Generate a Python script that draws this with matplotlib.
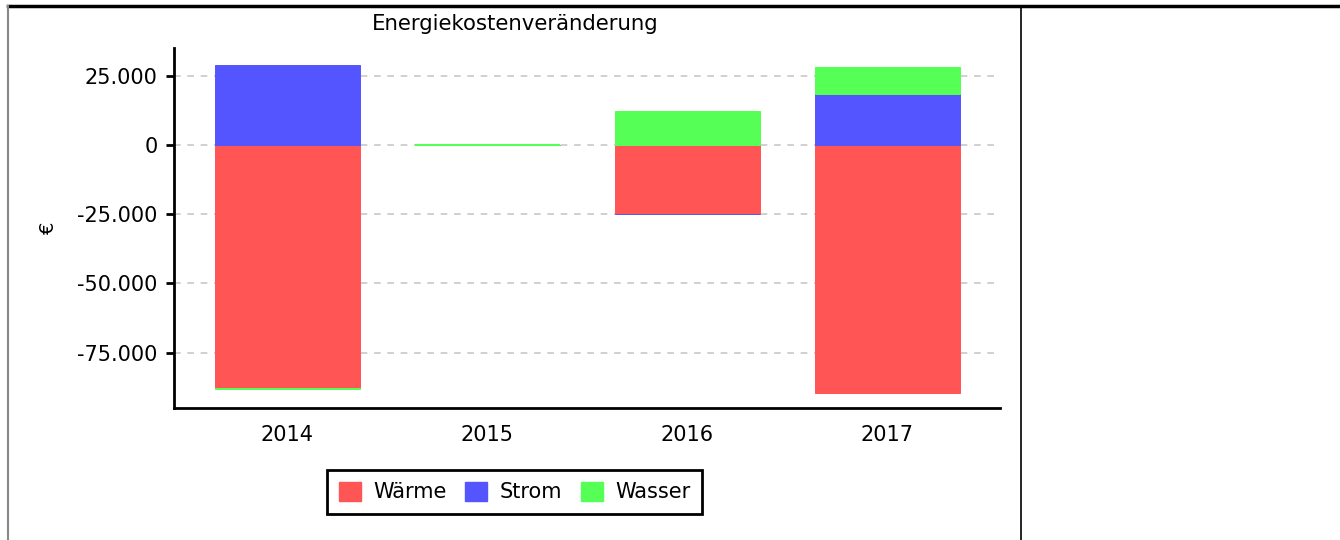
import matplotlib
matplotlib.use("Agg")
import matplotlib.pyplot as plt
import numpy as np
from matplotlib.lines import Line2D
from matplotlib.patches import Patch
import matplotlib.ticker as ticker

# data (EUR)
years = ["2014", "2015", "2016", "2017"]
waerme = [-87600, 0, -24900, -89400]
strom = [29000, 0, -200, 18250]
wasser = [-400, 0, 12100, 9750]

series_names = ["Wärme", "Strom", "Wasser"]
series_colors = ["#FF5555", "#5555FF", "#55FF55"]

title = "Energiekostenveränderung"
y_ticks = [-75000, -50000, -25000, 0, 25000]


def fmt_thousands(v, pos):
    s = "{:,.0f}".format(v).replace(",", ".")
    return s


fig = plt.figure(figsize=(13.4, 5.4), dpi=100, facecolor="white")
ax = fig.add_axes([0.1299, 0.2444, 0.6164, 0.6667])

x = np.arange(len(years))
bar_w = 0.725

# stack positives upward and negatives downward separately
pos_bottom = np.zeros(len(years))
neg_bottom = np.zeros(len(years))
for vals, name, col in zip([waerme, strom, wasser], series_names, series_colors):
    vals = np.array(vals, dtype=float)
    bottoms = np.where(vals >= 0, pos_bottom, neg_bottom)
    ax.bar(x, vals, bottom=bottoms, width=bar_w, color=col,
           edgecolor=col, linewidth=0.7, zorder=3)
    pos_bottom = pos_bottom + np.where(vals > 0, vals, 0)
    neg_bottom = neg_bottom + np.where(vals < 0, vals, 0)

# zero-valued year still shows as a flat line in the last series colour
zero_years = [i for i in x if waerme[i] == 0 and strom[i] == 0 and wasser[i] == 0]
for i in zero_years:
    ax.hlines(0, i - bar_w / 2, i + bar_w / 2, color=series_colors[-1], linewidth=1.5, zorder=4)

ax.set_xlim(-0.565, 3.565)
ax.set_ylim(-95000, 35000)
ax.set_xticks(x)
ax.set_xticklabels(years)
ax.set_yticks(y_ticks)
ax.yaxis.set_major_formatter(ticker.FuncFormatter(fmt_thousands))

ax.grid(axis="y", color="#c8c8c8", linestyle=(0, (4, 4)), linewidth=1.2, zorder=0)
ax.set_axisbelow(True)

for side in ["top", "right"]:
    ax.spines[side].set_visible(False)
for side in ["left", "bottom"]:
    ax.spines[side].set_linewidth(2)

ax.tick_params(axis="y", direction="out", length=6, width=2, labelsize=15, pad=6)
ax.tick_params(axis="x", length=0, labelsize=15, pad=12)

fig.text(0.0358, 0.578, "€", rotation=90, ha="center", va="center", fontsize=14)
fig.text(0.3843, 0.955, title, ha="center", va="center", fontsize=15.3)

handles = [Patch(facecolor=c, edgecolor=c, label=n) for n, c in zip(series_names, series_colors)]
leg = fig.legend(handles=handles, loc="center", bbox_to_anchor=(0.384, 0.089), ncol=3,
                 frameon=True, fancybox=False, fontsize=15, handlelength=1.05,
                 handleheight=1.05, handletextpad=0.6, columnspacing=0.9,
                 borderpad=0.55, borderaxespad=0, edgecolor="black", framealpha=1)
leg.get_frame().set_linewidth(2)

# surrounding panel lines
fig.add_artist(Line2D([8 / 1340, 1.0], [1 - 6 / 540, 1 - 6 / 540], color="black", linewidth=2.5,
                      transform=fig.transFigure))
fig.add_artist(Line2D([8 / 1340, 8 / 1340], [1 - 6 / 540, 0], color="#888888", linewidth=1.5,
                      transform=fig.transFigure))
fig.add_artist(Line2D([1021 / 1340, 1021 / 1340], [1 - 6 / 540, 0], color="black", linewidth=1.2,
                      transform=fig.transFigure))

fig.savefig("out.png", dpi=100, facecolor="white")
